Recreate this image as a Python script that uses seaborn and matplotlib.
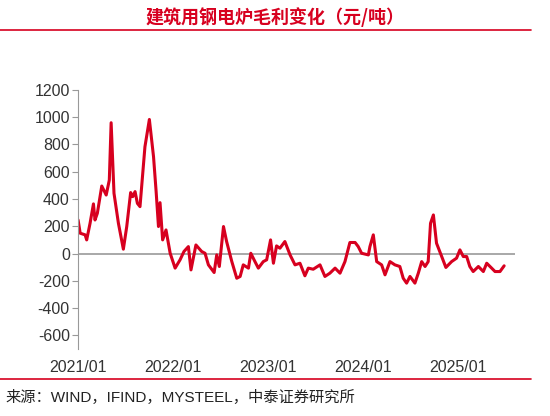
import matplotlib
matplotlib.use("Agg")
import matplotlib.pyplot as plt
import pandas as pd
import seaborn as sns

dates = [
    "2021-01-01", "2021-01-09", "2021-01-28", "2021-02-03", "2021-02-16", "2021-03-01",
    "2021-03-07", "2021-03-16", "2021-04-02", "2021-04-19", "2021-05-01", "2021-05-08",
    "2021-05-19", "2021-06-05", "2021-06-24", "2021-07-07", "2021-07-22", "2021-07-30",
    "2021-08-08", "2021-08-17", "2021-08-27", "2021-09-15", "2021-10-02", "2021-10-18",
    "2021-10-28", "2021-11-06", "2021-11-12", "2021-11-22", "2021-12-05", "2021-12-21",
    "2022-01-09", "2022-01-28", "2022-02-12", "2022-03-01", "2022-03-11", "2022-03-30",
    "2022-04-21", "2022-05-04", "2022-05-17", "2022-06-08", "2022-06-18", "2022-06-28",
    "2022-07-14", "2022-07-26", "2022-08-15", "2022-09-03", "2022-09-16", "2022-09-28",
    "2022-10-18", "2022-10-27", "2022-11-12", "2022-11-25", "2022-12-14", "2022-12-27",
    "2023-01-11", "2023-01-22", "2023-02-03", "2023-02-16", "2023-03-07", "2023-03-27",
    "2023-04-15", "2023-05-04", "2023-05-23", "2023-06-05", "2023-06-24", "2023-07-20",
    "2023-08-08", "2023-08-27", "2023-09-16", "2023-10-05", "2023-10-24", "2023-11-12",
    "2023-12-02", "2023-12-14", "2023-12-27", "2024-01-22", "2024-01-28", "2024-02-10",
    "2024-02-23", "2024-03-13", "2024-03-26", "2024-04-14", "2024-05-03", "2024-05-22",
    "2024-06-04", "2024-06-17", "2024-06-30", "2024-07-19", "2024-08-01", "2024-08-14",
    "2024-08-27", "2024-09-08", "2024-09-17", "2024-09-28", "2024-10-10", "2024-10-30",
    "2024-11-15", "2024-12-07", "2024-12-26", "2025-01-08", "2025-01-21", "2025-02-03",
    "2025-02-15", "2025-02-28", "2025-03-20", "2025-04-08", "2025-04-21", "2025-05-10",
    "2025-05-23", "2025-06-11", "2025-06-27",
]
margin = [
    246, 149, 137, 100, 222, 364, 246, 295, 495, 429, 539, 959,
    442, 222, 32, 198, 447, 417, 454, 368, 344, 783, 983, 710,
    454, 198, 373, 100, 173, 2, -107, -46, 15, 51, -120, 63,
    15, 2, -83, -139, -10, -95, 198, 88, -59, -181, -168, -83,
    -107, 2, -59, -107, -59, -46, 100, -71, 56, 39, 88, -10,
    -83, -71, -163, -107, -115, -83, -168, -144, -107, -144, -59, 81,
    81, 51, 2, -10, 51, 137, -59, -83, -156, -59, -83, -95,
    -181, -217, -168, -217, -144, -59, -95, -59, 222, 283, 76, -22,
    -102, -59, -34, 27, -22, -22, -95, -132, -95, -132, -71, -107,
    -132, -132, -90,
]
yticks = list(range(-600, 1201, 200))
xtick_labels = ["2021/01", "2022/01", "2023/01", "2024/01", "2025/01"]

df = pd.DataFrame({"date": pd.to_datetime(dates), "margin": margin})

sns.set_style("white")
plt.rcParams["font.family"] = ["Liberation Sans", "Noto Sans CJK SC", "DejaVu Sans"]
plt.rcParams["axes.unicode_minus"] = False
red = "#D7001F"

fig = plt.figure(figsize=(5.5, 4.16), dpi=100)
ax = fig.add_axes([0.142, 0.161, 0.794, 0.623])
ax.axhline(0, color="#999999", lw=1.2, zorder=1)
sns.lineplot(data=df, x="date", y="margin", ax=ax, color=red, lw=2.2, zorder=2)

ax.set_ylim(-700, 1200)
ax.set_yticks(yticks)
ax.set_xlim(pd.Timestamp("2021-01-01"), pd.Timestamp("2025-08-07"))
ax.set_xticks(pd.to_datetime([l.replace("/", "-") + "-01" for l in xtick_labels]))
ax.set_xticklabels(xtick_labels)
ax.set_xlabel("")
ax.set_ylabel("")
for s in ["top", "right", "bottom"]:
    ax.spines[s].set_visible(False)
ax.spines["left"].set_color("#999999")
ax.tick_params(axis="y", left=True, length=4, color="#999999", labelsize=11.5,
               colors="#333333", pad=2)
ax.tick_params(axis="x", length=0, labelsize=11.5, colors="#333333", pad=8)

fig.text(0.5, 0.96, "建筑用钢电炉毛利变化（元/吨）", color=red, fontsize=13,
         fontweight="bold", style="italic", ha="center", va="center",
         family=["Noto Sans CJK SC", "DejaVu Sans"])
fig.add_artist(plt.Line2D([0.0, 0.965], [0.927, 0.927], color=red, lw=1.2))
fig.add_artist(plt.Line2D([0.0, 0.965], [0.089, 0.089], color=red, lw=1.2))
fig.text(0.01, 0.045, "来源：WIND，IFIND，MYSTEEL，中泰证券研究所", color="#222222",
         fontsize=11, ha="left", va="center")

fig.savefig("out.png", dpi=100)
